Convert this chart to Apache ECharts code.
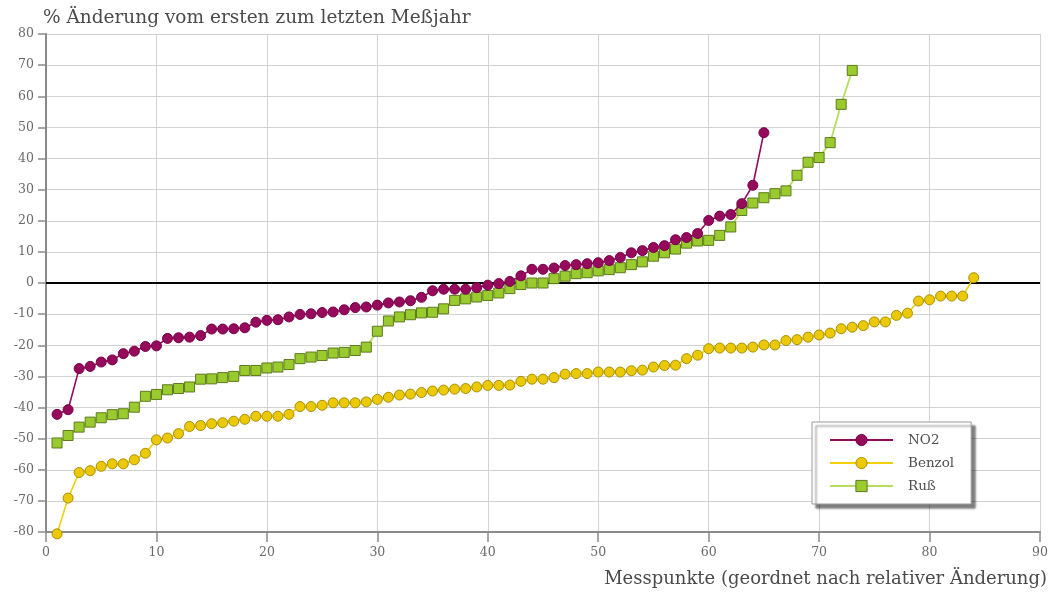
<!DOCTYPE html>
<html>
<head>
<meta charset="utf-8">
<script src="https://cdn.jsdelivr.net/npm/echarts@6/dist/echarts.min.js"></script>
<style>
  html, body { margin: 0; padding: 0; background: #ffffff; }
  #chart { width: 1054px; height: 599px; }
</style>
</head>
<body>
<div id="chart"></div>
<script>
// Relative change (%) between the first and the last measurement year,
// each series sorted ascending; x is the rank of the measuring point.
const seriesNames = ['NO2', 'Benzol', 'Ruß'];

const no2Values = [
  -42.2, -40.7, -27.5, -26.8, -25.4, -24.7, -22.7, -21.9, -20.4, -20.2,
  -17.8, -17.6, -17.4, -16.9, -14.8, -14.8, -14.7, -14.4, -12.6, -12.0,
  -11.8, -10.9, -10.1, -9.9, -9.5, -9.3, -8.6, -7.9, -7.7, -7.1,
  -6.4, -6.1, -5.7, -4.6, -2.5, -2.0, -2.0, -2.0, -1.5, -0.7,
  -0.2, 0.5, 2.3, 4.4, 4.4, 4.8, 5.6, 5.9, 6.2, 6.5,
  7.2, 8.2, 9.7, 10.4, 11.4, 12.0, 13.9, 14.6, 15.9, 20.1,
  21.5, 22.0, 25.5, 31.4, 48.3
];

const benzolValues = [
  -80.6, -69.1, -60.9, -60.3, -58.9, -58.1, -58.1, -56.8, -54.7, -50.4,
  -49.8, -48.4, -46.1, -45.8, -45.2, -44.9, -44.4, -43.8, -42.8, -42.8,
  -42.8, -42.2, -39.7, -39.7, -39.3, -38.5, -38.5, -38.5, -38.2, -37.4,
  -36.7, -36.0, -35.7, -35.2, -34.7, -34.4, -34.1, -33.9, -33.4, -32.9,
  -32.9, -32.8, -31.6, -30.9, -30.9, -30.4, -29.3, -29.1, -29.1, -28.6,
  -28.6, -28.6, -28.2, -28.0, -27.0, -26.5, -26.4, -24.3, -23.2, -21.1,
  -20.9, -20.9, -20.9, -20.6, -19.9, -19.9, -18.5, -18.2, -17.4, -16.7,
  -16.1, -14.7, -14.2, -13.7, -12.5, -12.5, -10.4, -9.7, -5.8, -5.4,
  -4.2, -4.2, -4.2, 1.7
];

const russValues = [
  -51.4, -49.0, -46.3, -44.7, -43.3, -42.3, -42.0, -39.9, -36.4, -35.8,
  -34.3, -33.9, -33.4, -30.9, -30.8, -30.4, -30.0, -28.1, -28.1, -27.3,
  -27.0, -26.2, -24.3, -23.8, -23.3, -22.5, -22.3, -21.7, -20.6, -15.5,
  -12.2, -10.9, -10.2, -9.6, -9.4, -8.3, -5.6, -5.1, -4.5, -4.0,
  -3.2, -1.8, -0.5, 0.0, 0.0, 1.4, 2.2, 3.0, 3.3, 3.9,
  4.3, 4.9, 5.9, 6.8, 8.6, 9.7, 10.9, 12.8, 13.5, 13.7,
  15.3, 18.0, 23.3, 25.7, 27.4, 28.7, 29.6, 34.6, 38.8, 40.3,
  45.1, 57.4, 68.3
];

const xTicks = { min: 0, max: 90, step: 10 };
const yTicks = { min: -80, max: 80, step: 10 };

const titleText = '% Änderung vom ersten zum letzten Meßjahr';
const xAxisTitle = 'Messpunkte (geordnet nach relativer Änderung)';

// rank (1-based) paired with the value
const ranked = values => values.map((v, i) => [i + 1, v]);

const serif = '"DejaVu Serif", "Liberation Serif", serif';

const chart = echarts.init(document.getElementById('chart'), null, { renderer: 'canvas' });

chart.setOption({
  animation: false,
  backgroundColor: '#ffffff',
  textStyle: { fontFamily: serif },
  title: {
    text: titleText,
    left: 38,
    top: 4,
    textStyle: { fontFamily: serif, fontSize: 18.5, fontWeight: 'normal', color: '#4a4a4a' }
  },
  grid: { left: 46, right: 14, top: 34, bottom: 67, containLabel: false },
  legend: {
    orient: 'vertical',
    left: 812,
    top: 422,
    padding: [11, 17, 11, 17],
    itemWidth: 63,
    itemHeight: 14,
    itemGap: 9,
    itemStyle: { borderWidth: 1 },
    backgroundColor: '#ffffff',
    borderColor: '#9a9a9a',
    borderWidth: 1,
    shadowColor: 'rgba(0,0,0,0.5)',
    shadowBlur: 2,
    shadowOffsetX: 4,
    shadowOffsetY: 4,
    textStyle: { fontFamily: serif, fontSize: 13.5, color: '#505050', padding: [0, 0, 0, 10] },
    data: seriesNames
  },
  xAxis: {
    type: 'value',
    min: xTicks.min,
    max: xTicks.max,
    interval: xTicks.step,
    name: xAxisTitle,
    nameLocation: 'end',
    nameGap: 7,
    nameTextStyle: {
      fontFamily: serif, fontSize: 18, color: '#4a4a4a',
      align: 'right', verticalAlign: 'top', padding: [38, 0, 0, 0]
    },
    axisLine: { onZero: false, lineStyle: { color: '#8a8a8a', width: 2 } },
    axisTick: { show: true, inside: false, length: 10, lineStyle: { color: '#8a8a8a', width: 1.5 } },
    axisLabel: { fontFamily: serif, fontSize: 12.5, color: '#6a6a6a', margin: 14 },
    splitLine: { show: true, lineStyle: { color: '#d2d2d2', width: 1 } }
  },
  yAxis: {
    type: 'value',
    min: yTicks.min,
    max: yTicks.max,
    interval: yTicks.step,
    axisLine: { show: true, onZero: false, lineStyle: { color: '#8a8a8a', width: 2 } },
    axisTick: { show: true, inside: false, length: 8, lineStyle: { color: '#8a8a8a', width: 1.5 } },
    axisLabel: { fontFamily: serif, fontSize: 12.5, color: '#6a6a6a', margin: 12 },
    splitLine: { show: true, lineStyle: { color: '#d2d2d2', width: 1 } }
  },
  series: [
    {
      name: seriesNames[0],
      type: 'line',
      data: ranked(no2Values),
      symbol: 'circle',
      symbolSize: 10,
      z: 4,
      lineStyle: { color: '#960a5c', width: 1.6 },
      itemStyle: { color: '#960a5c', borderColor: '#7a0049', borderWidth: 1 },
      markLine: {
        silent: true,
        symbol: 'none',
        label: { show: false },
        z: 1,
        lineStyle: { color: '#000000', width: 2, type: 'solid' },
        data: [{ yAxis: 0 }]
      }
    },
    {
      name: seriesNames[1],
      type: 'line',
      data: ranked(benzolValues),
      clip: false,
      symbol: 'circle',
      symbolSize: 10,
      z: 3,
      lineStyle: { color: '#f2cf0a', width: 1.6 },
      itemStyle: { color: '#ecc907', borderColor: '#a88f00', borderWidth: 1 }
    },
    {
      name: seriesNames[2],
      type: 'line',
      data: ranked(russValues),
      symbol: 'rect',
      symbolSize: 10,
      z: 3,
      lineStyle: { color: '#b5df5c', width: 1.8 },
      itemStyle: { color: '#9acb2e', borderColor: '#5d7a1c', borderWidth: 1 }
    }
  ]
});
</script>
</body>
</html>
